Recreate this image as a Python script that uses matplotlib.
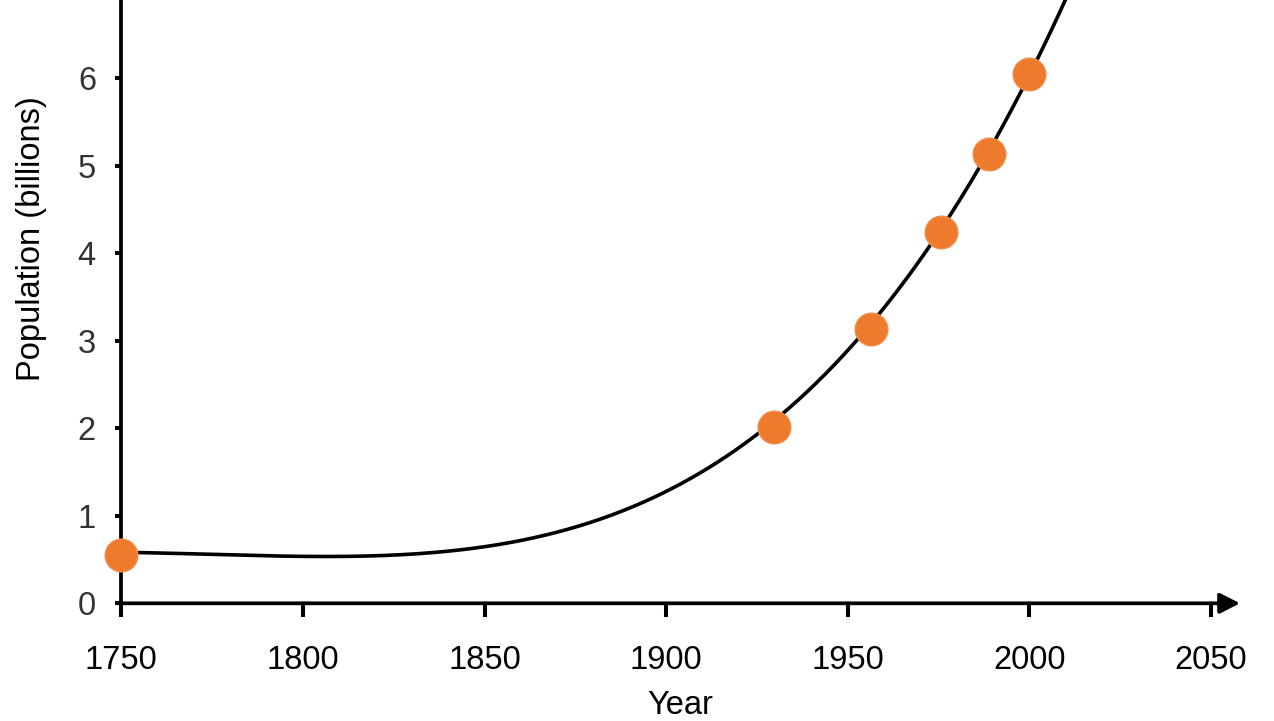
import numpy as np
import matplotlib
matplotlib.use("Agg")
import matplotlib.pyplot as plt
from matplotlib.transforms import blended_transform_factory

# data points
years = [1750, 1929.6, 1956.5, 1975.7, 1988.9, 1999.8]
population = [0.55, 2.01, 3.13, 4.24, 5.13, 6.05]

# points
trend_years = [1754.7, 1790, 1808, 1850, 1868, 1900, 1917, 1950, 2001.6, 2010.3]
trend_values = [0.59, 0.52, 0.525, 0.69, 0.80, 1.275, 1.64, 2.91, 6.21, 6.895]

x_ticks = [1750, 1800, 1850, 1900, 1950, 2000, 2050]
y_ticks = [0, 1, 2, 3, 4, 5, 6]

plt.rcParams['font.family'] = ['Liberation Sans', 'DejaVu Sans']

W, H = 1274, 721
fig = plt.figure(figsize=(W / 100, H / 100), dpi=100)
ax = fig.add_axes([121.3 / W, 1 - 603.3 / H, (1240 - 121.3) / W, 603.3 / H])
ax.set_xlim(1750, 2058)
ax.set_ylim(0, 6.895)

# smooth trend line fitted through the traced curve points
coef = np.polyfit(trend_years, trend_values, 4)
xs = np.linspace(1750, 2058, 500)
ax.plot(xs, np.polyval(coef, xs), color='black', lw=2.6, zorder=2,
        solid_capstyle='butt')

ax.plot(years, population, 'o', ms=23.5, color='#EE7A2B', mec='#F28C4A', mew=1,
        zorder=3, clip_on=False)

for s in ['top', 'right', 'bottom']:
    ax.spines[s].set_visible(False)
ax.spines['left'].set_linewidth(2.7)
ax.annotate('', xy=(1, 0), xytext=(0, 0), xycoords='axes fraction',
            arrowprops=dict(arrowstyle='-|>,head_length=0.55,head_width=0.28',
                            lw=2.7, color='black', shrinkA=0, shrinkB=0,
                            mutation_scale=22), zorder=4)

ax.set_xticks(x_ticks)
ax.set_yticks(y_ticks)
ax.tick_params(axis='x', length=10, width=2.9, pad=20, labelsize=23.5, colors='black')
ax.tick_params(axis='y', length=4.3, width=2.9, pad=14, labelsize=23.5, colors='black',
               labelcolor='#333333')

ax.set_xlabel('Year', fontsize=23.5, labelpad=10)
ax.set_ylabel('Population (billions)', fontsize=23.5)
ax.yaxis.set_label_coords(-0.0664, 0.604)

# partially visible "7" label at the top edge
tr = blended_transform_factory(ax.transAxes, ax.transData)
ax.text(-23.5 / (1240 - 121.3), 7, '7', transform=tr, ha='right', va='center',
        fontsize=23.5, color='#333333', clip_on=False)

fig.savefig('out.png', dpi=100)
